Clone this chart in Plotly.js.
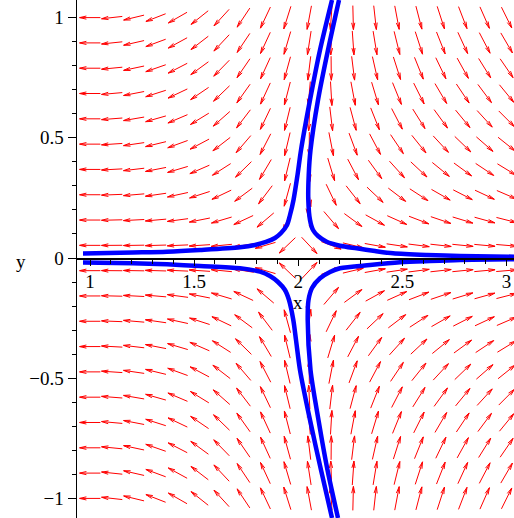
<!DOCTYPE html>
<html>
<head>
<meta charset="utf-8">
<script src="https://cdn.plot.ly/plotly-3.0.1.min.js"></script>
<style>html,body{margin:0;padding:0;background:#fff}</style>
</head>
<body>
<div id="chart" style="width:514px;height:518px"></div>
<script>
// Phase portrait of  x' = x^2 - y^2 - 4,  y' = -3.5 y (x - 1)  near the saddle point (2, 0)

// direction-field grid (20 x 20 arrows over the plotted ranges)
const fieldX = [1, 3];
const fieldY = [-1, 1];
const gridCount = 20;

// visible window
const viewX = [0.9376, 3.0355];
const viewY = [-1.0815, 1.0732];

// axis ticks
const xTicks = [1, 1.5, 2, 2.5, 3];
const yTicks = [-1, -0.5, 0, 0.5, 1];

// solution curves
const topLeftX  = [2.1618, 2.1042, 2.0562, 2.0130, 1.9962, 1.9770, 1.9602, 1.9458, 1.9170, 1.8882, 1.8449, 1.7921, 1.7201, 1.5281, 1.3697, 1.2064, 0.9664];
const topLeftY  = [1.0732, 0.8652, 0.6572, 0.4493, 0.3453, 0.2413, 0.1789, 0.1373, 0.1040, 0.0832, 0.0666, 0.0541, 0.0445, 0.0333, 0.0262, 0.0229, 0.0187];
const topRightX = [2.1954, 2.1426, 2.0946, 2.0586, 2.0500, 2.0480, 2.0562, 2.0706, 2.0946, 2.1363, 2.2002, 2.2804, 2.3682, 2.4546, 2.6178, 2.7763, 3.0355];
const topRightY = [1.0732, 0.8652, 0.6572, 0.4493, 0.3453, 0.2413, 0.1581, 0.1165, 0.0915, 0.0678, 0.0512, 0.0403, 0.0291, 0.0196, 0.0125, 0.0083, 0.0054];
const botLeftX  = [2.1618, 2.1090, 2.0562, 2.0082, 1.9890, 1.9760, 1.9554, 1.9362, 1.9026, 1.8641, 1.8161, 1.7201, 1.5281, 1.3697, 1.2064, 0.9664];
const botLeftY  = [-1.0815, -0.8819, -0.6739, -0.4659, -0.3411, -0.2579, -0.1747, -0.1331, -0.0998, -0.0749, -0.0570, -0.0428, -0.0333, -0.0262, -0.0220, -0.0187];
const botRightX = [2.1906, 2.1402, 2.0970, 2.0586, 2.0451, 2.0490, 2.0658, 2.1042, 2.1522, 2.2002, 2.3442, 2.4882, 2.6322, 2.7763, 3.0355];
const botRightY = [-1.0815, -0.8819, -0.6739, -0.4659, -0.2579, -0.1747, -0.1248, -0.0844, -0.0582, -0.0428, -0.0291, -0.0179, -0.0125, -0.0083, -0.0054];

const W = 514, H = 518;
const margin = {l: 77, r: 0, t: 0, b: 0};
const pxPerX = (W - margin.l - margin.r) / (viewX[1] - viewX[0]);
const pxPerY = (H - margin.t - margin.b) / (viewY[1] - viewY[0]);

function field(x, y) {
  return [x * x - y * y - 4, -3.5 * y * (x - 1)];
}

// arrow segments (shaft + two head barbs), separated by nulls
const ax = [], ay = [];
const arrowLen = 0.1;          // data units
const headLen = 7;             // pixels
const headAng = 13 * Math.PI / 180;
for (let i = 0; i < gridCount; i++) {
  const x = fieldX[0] + i * (fieldX[1] - fieldX[0]) / (gridCount - 1);
  for (let j = 0; j < gridCount; j++) {
    const y = fieldY[0] + j * (fieldY[1] - fieldY[0]) / (gridCount - 1);
    const [f, g] = field(x, y);
    const n = Math.hypot(f, g);
    if (n === 0) continue;
    const ux = f / n, uy = g / n;
    const x0 = x - ux * arrowLen / 2, y0 = y - uy * arrowLen / 2;
    const x1 = x + ux * arrowLen / 2, y1 = y + uy * arrowLen / 2;
    ax.push(x0, x1, null); ay.push(y0, y1, null);
    let dx = ux * pxPerX, dy = uy * pxPerY;
    const m = Math.hypot(dx, dy); dx /= m; dy /= m;
    for (const s of [1, -1]) {
      const c = Math.cos(s * headAng), sn = Math.sin(s * headAng);
      const bx = -(dx * c - dy * sn) * headLen;
      const by = -(dx * sn + dy * c) * headLen;
      ax.push(x1, x1 + bx / pxPerX, null);
      ay.push(y1, y1 + by / pxPerY, null);
    }
  }
}

const arrows = {
  x: ax, y: ay, type: 'scatter', mode: 'lines',
  line: {color: 'rgb(255,0,0)', width: 1}, hoverinfo: 'skip'
};
const curveStyle = {color: 'rgb(0,0,255)', width: 4.5, shape: 'spline', smoothing: 0.8};
const curves = [
  [topLeftX, topLeftY], [topRightX, topRightY],
  [botLeftX, botLeftY], [botRightX, botRightY]
].map(([cx, cy]) => ({x: cx, y: cy, type: 'scatter', mode: 'lines', line: curveStyle, hoverinfo: 'skip'}));

const tickFont = {family: 'Liberation Serif, Times New Roman, serif', size: 19, color: 'black'};

const layout = {
  width: W, height: H, margin: margin,
  paper_bgcolor: 'white', plot_bgcolor: 'white', showlegend: false,
  xaxis: {
    range: viewX, anchor: 'free',
    position: (0 - viewY[0]) / (viewY[1] - viewY[0]),
    showline: true, linecolor: 'black', linewidth: 1.5,
    showgrid: false, zeroline: false,
    tickmode: 'array', tickvals: xTicks,
    ticks: 'outside', ticklen: 6, tickwidth: 1, tickcolor: 'black',
    minor: {dtick: 0.1, tick0: 1, ticks: 'outside', ticklen: 4, tickwidth: 1, tickcolor: 'black', showgrid: false},
    tickfont: tickFont
  },
  yaxis: {
    range: viewY,
    showline: true, linecolor: 'black', linewidth: 1.5,
    showgrid: false, zeroline: false,
    tickmode: 'array', tickvals: yTicks,
    ticks: 'outside', ticklen: 8, tickwidth: 1, tickcolor: 'black',
    minor: {dtick: 0.1, tick0: 0, ticks: 'outside', ticklen: 4, tickwidth: 1, tickcolor: 'black', showgrid: false},
    tickfont: tickFont
  },
  annotations: [
    {text: 'x', xref: 'x', yref: 'y', x: 2.0, y: -0.185, showarrow: false, font: tickFont},
    {text: 'y', xref: 'paper', yref: 'y', x: -0.144, y: -0.015, showarrow: false, font: tickFont}
  ]
};

Plotly.newPlot('chart', [arrows, ...curves], layout, {displayModeBar: false, staticPlot: true});
</script>
</body>
</html>
